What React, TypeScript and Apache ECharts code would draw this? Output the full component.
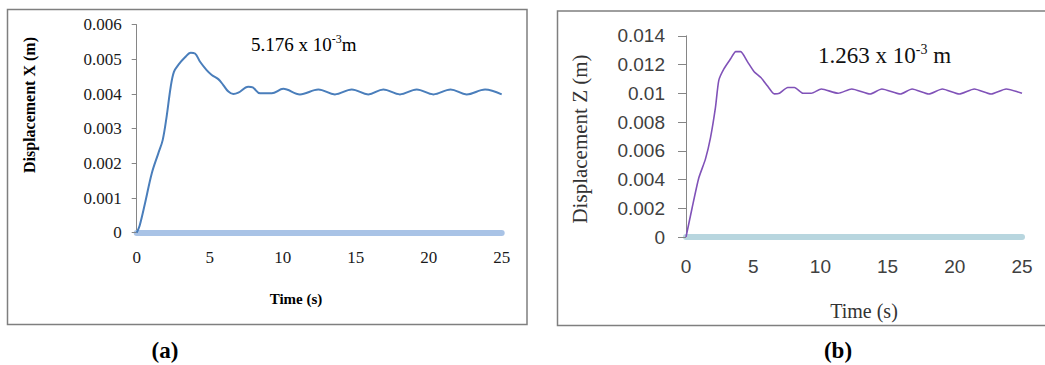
import React, { useEffect, useRef } from "react";
import * as echarts from "echarts";

// Panel (a): Displacement X (m) vs Time (s)
const timeA: number[] = [0, 0.2, 0.57, 1.03, 1.48, 1.78, 2.05, 2.33, 2.55, 2.85, 3.31, 3.7, 3.99, 4.34, 4.79, 5.14, 5.59, 5.93, 6.28, 6.62, 6.96, 7.64, 7.95, 8.45, 9.25, 10.04, 11.18, 12.44, 13.58, 14.73, 15.86, 16.89, 18.03, 19.18, 20.32, 21.5, 22.6, 23.86, 25];
const dispX: number[] = [0, 0.0002, 0.00085, 0.00171, 0.00229, 0.00267, 0.00335, 0.00421, 0.00464, 0.00484, 0.00506, 0.00519, 0.00517, 0.00493, 0.00469, 0.00455, 0.00443, 0.00426, 0.00407, 0.004, 0.00404, 0.00421, 0.00419, 0.00402, 0.00402, 0.00415, 0.00399, 0.00413, 0.00399, 0.00413, 0.00399, 0.00413, 0.00399, 0.00413, 0.00399, 0.00413, 0.00399, 0.00413, 0.00399];

// Panel (b): Displacement Z (m) vs Time (s)
const timeB: number[] = [0, 0.45, 0.95, 1.44, 1.82, 2.19, 2.44, 2.82, 3.32, 3.7, 4.07, 4.57, 5.07, 5.57, 6.07, 6.57, 6.95, 7.57, 8.07, 8.7, 9.32, 10.07, 11.32, 12.33, 13.7, 14.57, 15.95, 16.82, 18.07, 19.07, 20.33, 21.45, 22.7, 23.82, 25];
const dispZ: number[] = [0, 0.002, 0.0041, 0.0054, 0.0069, 0.009, 0.0109, 0.0117, 0.0124, 0.0129, 0.0129, 0.0122, 0.0115, 0.0111, 0.0105, 0.00996, 0.01, 0.0104, 0.0104, 0.01, 0.01, 0.0103, 0.01, 0.0103, 0.00995, 0.0103, 0.00995, 0.0103, 0.00995, 0.0103, 0.00995, 0.0103, 0.00995, 0.0103, 0.01];

const xAxisTitle = "Time (s)";
const yTitleA = "Displacement X (m)";
const yTitleB = "Displacement Z (m)";
const peakA = "5.176 x 10";
const peakB = "1.263 x 10";
const panelLabels = ["(a)", "(b)"];

const SERIF = "Liberation Serif";
const SANS = "Liberation Sans";

export default function App() {
  const ref = useRef<HTMLDivElement>(null);

  useEffect(() => {
    if (!ref.current) return;
    const chart = echarts.init(ref.current, undefined, { renderer: "svg" });
    const fmt = (v: number) => (v === 0 ? "0" : String(parseFloat(v.toFixed(3))));

    chart.setOption({
      animation: false,
      backgroundColor: "#ffffff",
      textStyle: { fontFamily: SERIF },
      grid: [
        { left: 136.7, top: 24.7, width: 365, height: 208 },
        { left: 686, top: 35.8, width: 336, height: 201.2 },
      ],
      xAxis: [
        {
          type: "value",
          gridIndex: 0,
          min: 0,
          max: 25,
          interval: 5,
          offset: 3,
          axisLine: { show: true, lineStyle: { color: "#a9c3e6", width: 6 } },
          axisTick: { show: false },
          splitLine: { show: false },
          axisLabel: { margin: 13, fontFamily: SERIF, fontSize: 17, color: "#1a1a1a", formatter: fmt },
        },
        {
          type: "value",
          gridIndex: 1,
          min: 0,
          max: 25,
          interval: 5,
          offset: 3,
          axisLine: { show: true, lineStyle: { color: "#b8d6df", width: 6 } },
          axisTick: { show: false },
          splitLine: { show: false },
          axisLabel: { margin: 17, fontFamily: SANS, fontSize: 19, color: "#404040" },
        },
      ],
      yAxis: [
        {
          type: "value",
          gridIndex: 0,
          min: 0,
          max: 0.006,
          interval: 0.001,
          axisLine: { show: true, lineStyle: { color: "#868686", width: 1 } },
          axisTick: { show: true, length: 5, lineStyle: { color: "#868686" } },
          splitLine: { show: false },
          axisLabel: { margin: 15, fontFamily: SERIF, fontSize: 17, color: "#1a1a1a", formatter: fmt },
        },
        {
          type: "value",
          gridIndex: 1,
          min: 0,
          max: 0.014,
          interval: 0.002,
          axisLine: { show: true, lineStyle: { color: "#868686", width: 1 } },
          axisTick: { show: true, length: 8, lineStyle: { color: "#868686" } },
          splitLine: { show: false },
          axisLabel: { margin: 21, fontFamily: SANS, fontSize: 19, color: "#404040", formatter: fmt },
        },
      ],
      series: [
        {
          type: "line",
          xAxisIndex: 0,
          yAxisIndex: 0,
          data: timeA.map((t, i) => [t, dispX[i]]),
          smooth: 0.35,
          showSymbol: false,
          lineStyle: { color: "#4a7ebb", width: 2 },
          z: 5,
        },
        {
          type: "line",
          xAxisIndex: 1,
          yAxisIndex: 1,
          data: timeB.map((t, i) => [t, dispZ[i]]),
          smooth: 0.2,
          showSymbol: false,
          lineStyle: { color: "#8052b8", width: 1.6 },
          z: 5,
        },
      ],
      graphic: [
        { type: "rect", shape: { x: 7.5, y: 9.5, width: 519.5, height: 315 }, style: { fill: "none", stroke: "#7f7f7f", lineWidth: 1.5 }, z: 0 },
        { type: "rect", shape: { x: 557.5, y: 11, width: 520, height: 314.5 }, style: { fill: "none", stroke: "#7f7f7f", lineWidth: 1.5 }, z: 0 },
        {
          type: "text", x: 29, y: 105, rotation: Math.PI / 2,
          style: { text: yTitleA, font: `bold 16px ${SERIF}`, fill: "#000", align: "center", verticalAlign: "middle" },
        },
        {
          type: "text", x: 296, y: 299,
          style: { text: xAxisTitle, font: `bold 15px ${SERIF}`, fill: "#000", align: "center", verticalAlign: "middle" },
        },
        {
          type: "text", x: 580, y: 139, rotation: Math.PI / 2,
          style: { text: yTitleB, font: `21px ${SERIF}`, fill: "#333", align: "center", verticalAlign: "middle" },
        },
        {
          type: "text", x: 864, y: 311,
          style: { text: xAxisTitle, font: `20px ${SERIF}`, fill: "#333", align: "center", verticalAlign: "middle" },
        },
        {
          type: "text", x: 251, y: 44,
          style: {
            text: `{a|${peakA}}{s|-3}{a|m}`,
            align: "left", verticalAlign: "middle",
            rich: {
              a: { fontFamily: SERIF, fontSize: 19, fill: "#000", lineHeight: 22 },
              s: { fontFamily: SERIF, fontSize: 12, fill: "#000", lineHeight: 22, verticalAlign: "top" },
            },
          },
        },
        {
          type: "text", x: 818, y: 55,
          style: {
            text: `{a|${peakB}}{s|-3}{a| m}`,
            align: "left", verticalAlign: "middle",
            rich: {
              a: { fontFamily: SERIF, fontSize: 23, fill: "#111", lineHeight: 26 },
              s: { fontFamily: SERIF, fontSize: 14, fill: "#111", lineHeight: 26, verticalAlign: "top" },
            },
          },
        },
        {
          type: "text", x: 165, y: 350,
          style: { text: panelLabels[0], font: `bold 23px ${SERIF}`, fill: "#000", align: "center", verticalAlign: "middle" },
        },
        {
          type: "text", x: 838, y: 350,
          style: { text: panelLabels[1], font: `bold 23px ${SERIF}`, fill: "#000", align: "center", verticalAlign: "middle" },
        },
      ],
    });

    return () => chart.dispose();
  }, []);

  return (
    <div
      ref={ref}
      style={{ position: "absolute", left: 0, top: 0, width: 1045, height: 365 }}
    />
  );
}
